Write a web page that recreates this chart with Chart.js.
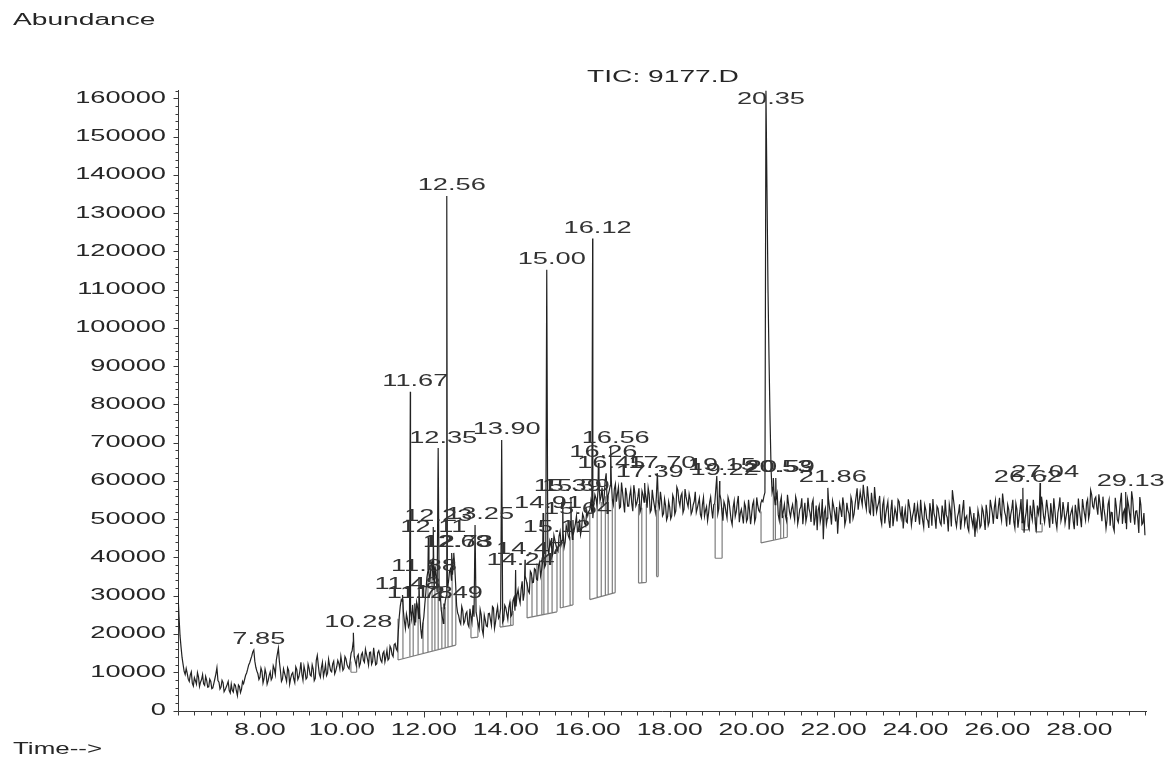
<!DOCTYPE html>
<html>
<head>
<meta charset="utf-8">
<title>TIC: 9177.D</title>
<script src="https://cdn.jsdelivr.net/npm/chart.js@4.4.1/dist/chart.umd.min.js"></script>
<style>
  html, body { margin: 0; padding: 0; background: #ffffff; }
  canvas { display: block; }
</style>
</head>
<body>
<canvas id="tic" width="1167" height="768"></canvas>
<script>
// Total ion chromatogram. Scans are stored as two interleaved sets:
// even scans from 6.000 min and odd scans from 6.025 min, each every 0.05 min.
const evenScanStart = 6.0;
const oddScanStart = 6.025;
const scanStep = 0.05;
const abundanceEven = [
  // 6.00 – 6.95
  30500,19500,13800,10200,11000,8200,9300,7100,8600,6900,8800,7400,9400,6600,7900,6200,7600,5900,8300,11200,
  // 7.00 – 7.95
  7400,6100,7300,5400,6800,5200,6900,4800,6600,3900,6300,5600,7000,9200,10800,12500,14200,14800,11300,9600,
  // 8.00 – 8.95
  8700,10200,8300,9600,7800,10100,8600,10900,13200,16300,10400,8200,9800,7600,10500,8400,9900,7300,10700,8800,
  // 9.00 – 9.95
  12600,7900,10300,8600,11000,9000,10800,8400,14400,9500,11200,8900,12000,9700,11800,10100,12900,10400,13100,10900,
  // 10.00 – 10.95
  12400,11000,13500,11300,12800,15600,14200,11800,14600,12300,15100,12600,14700,11900,15300,12800,14100,12200,15600,13100,
  // 11.00 – 11.95
  14900,12700,15800,13600,16200,14100,17500,15600,24500,29000,26000,21500,23800,22500,24000,24500,23000,26800,25400,18800,
  // 12.00 – 12.95
  24500,31000,36500,33800,39000,31500,35000,33000,30500,24500,26500,30000,33500,37000,35500,38500,27500,24800,22600,26100,
  // 13.00 – 13.95
  23400,25800,21900,24700,27500,26000,24200,21300,25100,19800,23600,21900,25400,22300,26800,23100,27200,24600,25800,23700,
  // 14.00 – 14.95
  26900,23800,28300,25100,29500,27200,31600,28100,33800,30600,34100,31200,36400,33400,37100,34300,38000,35200,39100,37500,
  // 15.00 – 15.95
  41000,40500,43200,41000,44500,42100,45600,43300,46200,44100,47300,45000,48100,46200,48900,46800,49900,47500,50600,48300,
  // 16.00 – 16.95
  50900,52400,51800,53900,55500,57300,54800,58200,55600,59000,56300,58800,55100,57900,54600,58400,53200,57100,51800,56500,
  // 17.00 – 17.95
  53400,57800,52100,56900,54300,58100,52700,56400,57200,53000,56600,52400,55300,51900,56000,53100,54800,51500,53600,50700,
  // 18.00 – 18.95
  53200,50900,55400,52200,57600,53500,56800,52600,55900,53300,55200,52100,54700,51800,54200,51300,53900,50800,53300,51600,
  // 19.00 – 19.95
  55800,50200,54100,56500,52800,55200,49600,53700,50300,54600,49800,53100,50700,54300,49200,52600,48900,53400,50100,52300,
  // 20.00 – 20.95
  51200,54800,50400,53600,51900,55000,56000,58000,110000,76000,57000,56200,55300,51200,54500,50300,53900,49700,54100,50600,
  // 21.00 – 21.95
  53800,49900,54700,50400,53200,48700,54300,50900,52800,49300,55100,50200,47100,53600,50800,44800,52900,50300,53100,48600,
  // 22.00 – 22.95
  53500,49400,46200,54000,50600,53700,49800,52400,48900,54600,51300,55900,52500,57100,53800,56300,52600,55700,51400,54200,
  // 23.00 – 23.95
  58400,51900,54300,50100,53800,48900,53100,49700,52400,48200,52900,49400,54600,50300,47600,52800,49100,53500,48500,51900,
  // 24.00 – 24.95
  49300,53700,48600,51800,47900,52500,49600,54200,48300,51600,47500,52800,49100,53600,48700,51200,46800,52300,57600,53100,
  // 25.00 – 25.95
  48100,51700,47300,52600,48800,50900,46900,51400,48200,45400,47600,50800,48400,52100,47200,51600,49300,53300,48800,54900,
  // 26.00 – 26.95
  50200,55600,49700,54300,50900,53800,48600,52700,49300,54100,47800,52300,49100,46500,51800,48200,53600,49900,52700,47400,
  // 27.00 – 27.95
  51500,48600,53900,49200,55100,50300,54200,48800,52600,47700,53300,49600,54500,48900,52100,47300,51900,49400,53800,48300,
  // 28.00 – 28.95
  52400,47900,53100,49800,55200,51600,56400,52900,55800,51200,54300,49500,52700,47600,53900,48300,51700,46900,53400,49200,
  // 29.00 – 29.60
  54600,48800,52500,47400,53700,49100,55300,48600,52200,46400,53800,49000,45800
];
const abundanceOdd = [
  // 6.025 – 6.975
  24500,16500,12000,9400,9700,7600,10100,6400,7800,9900,6300,8100,7000,8900,6100,8200,5700,7100,9600,7800,
  // 7.025 – 7.975
  5600,7900,4900,6100,7600,4600,5300,6900,5100,6700,4700,7600,8100,9800,11900,13400,15300,12900,10300,8100,
  // 8.025 – 8.975
  11100,7200,10800,6900,9200,8000,11700,9400,14800,12700,7600,10900,8700,11200,6900,9500,8300,11400,8100,10300,
  // 9.025 – 9.975
  9400,11600,8200,12100,9300,11900,7800,13100,11800,8700,12600,10200,9100,13400,10400,12200,9600,11500,12300,14200,
  // 10.025 – 10.975
  10500,14100,12000,10900,15000,17900,12900,14100,11500,14500,13100,16000,13400,15200,12100,16400,11900,15100,14400,12600,
  // 11.025 – 11.975
  15400,14100,13200,16800,14600,17200,16100,20300,27300,28500,23400,25200,21800,26100,27600,22400,28300,24100,21400,22600,
  // 12.025 – 12.975
  27900,34800,35900,38000,34200,37700,30900,28600,26300,22800,28800,32100,36300,34100,39800,33200,25500,23300,27200,22700,
  // 13.025 – 13.975
  25300,22600,26600,23000,24500,25700,22500,26400,21100,24900,22100,25300,23800,27200,21500,25600,24100,26800,23100,27500,
  // 14.025 – 14.975
  25300,27000,24600,28700,26100,30200,29400,31700,28700,35100,32800,30700,35900,33500,36800,34100,38800,36700,40900,38200,
  // 15.025 – 15.975
  42800,44300,40100,45800,43200,41600,46800,44500,42700,48300,45700,49400,44700,47500,50800,47100,46000,51400,48900,52300,
  // 16.025 – 16.975
  52100,54600,50300,56400,53600,59400,55900,53700,60100,54200,57500,60300,53800,59200,56700,52900,59600,54300,58200,53400,
  // 17.025 – 17.975
  56200,54100,58900,53500,55900,51800,57400,54500,55600,58300,51800,57700,53700,55900,54400,57200,50900,55300,49800,54600,
  // 18.025 – 18.975
  50100,56300,51300,58400,54800,56100,51700,57900,54400,56600,51400,53800,57200,52900,55500,50400,55700,52300,49600,54400,
  // 19.025 – 19.975
  52600,53800,57700,51400,56600,52100,54600,51800,55700,52200,48600,54800,51900,56100,51600,50800,54300,49400,55100,48700,
  // 20.025 – 20.975
  53900,49300,55700,52300,54200,54600,57000,136000,92000,63000,58400,53800,56700,49700,55800,52200,50900,56400,51900,52700,
  // 21.025 – 21.975
  51600,55900,48800,52600,55500,51800,49400,55600,51700,54100,48400,53600,52400,49300,55300,51800,48700,55400,51100,54800,
  // 22.025 – 22.975
  51700,53200,50900,52400,55700,48500,54300,51500,55800,50200,53900,58100,54700,55400,59000,54200,58600,51900,56900,50800,
  // 23.025 – 23.975
  55200,53300,56100,48700,55100,51400,54600,47700,55100,50600,51600,55100,51900,53400,50900,49400,55200,51800,50700,54300,
  // 24.025 – 24.975
  51400,50900,55100,49600,53700,50100,47700,52100,55300,50400,53400,50800,48500,51700,55100,50400,53900,48100,55300,49700,
  // 25.025 – 25.975
  50600,53900,49800,55000,50400,47800,53300,49700,51600,49300,52400,47800,53100,49900,53800,48400,55100,51600,53100,50300,
  // 26.025 – 26.975
  53400,51300,56700,51900,48100,52600,51300,55100,47700,52600,50300,55300,54300,50100,55200,47400,51400,55100,48800,53600,
  // 27.025 – 27.975
  53400,55900,50800,51900,52800,47800,51600,55500,49400,51700,55700,50900,52300,50700,54500,50800,52900,47400,51800,55400,
  // 28.025 – 28.975
  50300,55300,51400,54300,50100,57600,53400,55300,53100,56500,52000,55900,50800,49800,55100,51800,47900,55600,49900,51600,
  // 29.025 – 29.575
  56900,51800,49100,55200,51400,57300,51300,52100,50200,55800,48600,51600
];

// Integrated peaks: retention time (min) and apex abundance
const peakTimes = [7.85, 10.28, 11.48, 11.67, 11.78, 11.88, 12.11, 12.23, 12.35, 12.49, 12.56, 12.68, 12.73,
  13.25, 13.90, 14.24, 14.47, 14.91, 15.00, 15.12, 15.39, 15.59, 15.64, 16.12, 16.26, 16.45, 16.56,
  17.39, 17.70, 19.15, 19.22, 20.35, 20.53, 20.59, 21.86, 26.62, 27.04, 29.13];
const peakHeights = [15800, 20300, 30200, 83300, 28000, 34900, 45100, 48000, 68600, 28000, 134500, 41200, 41200,
  48500, 70700, 36700, 39400, 51600, 115200, 45100, 55800, 55800, 49800, 123400, 64700, 62000, 68600,
  59500, 62000, 61300, 60000, 162000, 60800, 60800, 58200, 58200, 59500, 57100];

// Integration baselines: [start time, start level, end time, end level]
const baselineSegments = [
  [10.22, 10000, 10.36, 10000],
  [11.37, 13200, 12.78, 17100],
  [13.15, 19000, 13.32, 19200],
  [13.86, 21800, 14.18, 22300],
  [14.52, 24200, 15.25, 25800],
  [15.33, 26800, 15.64, 27600],
  [16.05, 29000, 16.67, 30800],
  [17.24, 33300, 17.43, 33500],
  [17.68, 35000, 17.72, 35000],
  [19.11, 39800, 19.28, 39800],
  [20.23, 43800, 20.87, 45300],
  [26.60, 47200, 26.76, 47200],
  [26.93, 46700, 27.09, 46700]
];
// Peak start/stop markers: [time, signal level where the marker meets the trace]
const dropMarkers = [
  [10.22, 12800], [10.36, 11800],
  [11.37, 24000], [11.49, 29000], [11.66, 24000], [11.74, 25500], [11.86, 28000], [11.98, 23000],
  [12.10, 36000], [12.20, 39000], [12.27, 32000], [12.35, 34000], [12.44, 27000], [12.52, 27000],
  [12.59, 33000], [12.69, 36000], [12.78, 30000],
  [13.15, 24700], [13.32, 23000],
  [13.86, 24600], [13.93, 25000], [14.12, 28500], [14.18, 26000],
  [14.52, 33500], [14.64, 34800], [14.76, 38500], [14.88, 40000], [14.93, 41000], [15.03, 40500],
  [15.13, 43000], [15.25, 42500],
  [15.33, 44500], [15.40, 46000], [15.57, 45500], [15.64, 47500],
  [16.05, 52000], [16.23, 55000], [16.33, 54500], [16.43, 56000], [16.50, 56000], [16.60, 55000], [16.67, 57000],
  [17.24, 54000], [17.32, 53000], [17.43, 54000],
  [17.68, 52500], [17.72, 55000],
  [19.11, 54000], [19.28, 53000],
  [20.23, 52000], [20.53, 58000], [20.58, 56000], [20.71, 54000], [20.78, 51000], [20.87, 50500],
  [26.60, 49500], [26.76, 48500],
  [26.93, 50500], [27.09, 49000]
];

// Axis ticks
const timeTicks = [8, 10, 12, 14, 16, 18, 20, 22, 24, 26, 28];
const abundanceTicks = [0, 10000, 20000, 30000, 40000, 50000, 60000, 70000, 80000, 90000,
  100000, 110000, 120000, 130000, 140000, 150000, 160000];
const timeMinorStep = 0.4;
const abundanceMinorStep = 2000;

const sameTime = (a, b) => Math.abs(a - b) < 0.001;
const toScans = (values, start) =>
  values.map((v, i) => ({ x: +(start + i * scanStep).toFixed(3), y: v }));

// Trace: every scan, with the apex of each integrated peak merged in
const tracePoints = toScans(abundanceEven, evenScanStart)
  .concat(toScans(abundanceOdd, oddScanStart))
  .filter(p => !peakTimes.some(t => sameTime(t, p.x)))
  .concat(peakTimes.map((t, i) => ({ x: t, y: peakHeights[i] })))
  .sort((a, b) => a.x - b.x);

// Integration marks: baselines plus vertical start/stop lines
function baselineAt(t) {
  for (const [t0, b0, t1, b1] of baselineSegments) {
    if (t >= t0 - 0.001 && t <= t1 + 0.001) return b0 + (b1 - b0) * (t - t0) / (t1 - t0);
  }
  return null;
}
const markPoints = [];
for (const [t0, b0, t1, b1] of baselineSegments) {
  markPoints.push({ x: t0, y: b0 }, { x: t1, y: b1 }, { x: t1, y: null });
}
for (const [t, top] of dropMarkers) {
  markPoints.push({ x: t, y: baselineAt(t) }, { x: t, y: top }, { x: t, y: null });
}

const FONT = "'Liberation Sans', Arial, Helvetica, sans-serif";
function wideText(ctx, text, x, y, size, stretch, align) {
  ctx.save();
  ctx.translate(x, y);
  ctx.scale(stretch, 1);
  ctx.font = size + 'px ' + FONT;
  ctx.textAlign = align;
  ctx.textBaseline = 'middle';
  ctx.fillText(text, 0, 0);
  ctx.restore();
}

const chromDecor = {
  id: 'chromDecor',
  beforeDatasetsDraw(chart) {
    const { ctx, chartArea: a, scales: { x, y } } = chart;
    ctx.save();
    ctx.strokeStyle = '#3a3a3a';
    ctx.lineWidth = 1;
    ctx.beginPath();
    const ax = Math.round(a.left) + 0.5;
    const ay = Math.round(y.getPixelForValue(0)) + 0.5;
    ctx.moveTo(ax, Math.round(a.top) + 3);
    ctx.lineTo(ax, ay);
    ctx.lineTo(Math.round(a.right), ay);
    // time ticks below the axis
    for (let t = x.min; t <= x.max + 1e-6; t += timeMinorStep) {
      const px = Math.round(x.getPixelForValue(t)) + 0.5;
      const major = timeTicks.some(v => Math.abs(v - t) < 1e-6);
      ctx.moveTo(px, ay);
      ctx.lineTo(px, ay + (major ? 6 : 4));
    }
    // abundance ticks left of the axis
    for (let v = 0; v <= y.max; v += abundanceMinorStep) {
      const py = Math.round(y.getPixelForValue(v)) + 0.5;
      const major = abundanceTicks.includes(v);
      ctx.moveTo(ax, py);
      ctx.lineTo(ax - (major ? 5 : 3), py);
    }
    ctx.stroke();
    ctx.restore();
  },
  afterDraw(chart) {
    const { ctx, chartArea: a, scales: { x, y } } = chart;
    ctx.save();
    ctx.fillStyle = '#262626';
    // axis labels
    for (const v of abundanceTicks) {
      wideText(ctx, String(v), a.left - 12, y.getPixelForValue(v), 16, 1.70, 'right');
    }
    for (const t of timeTicks) {
      wideText(ctx, t.toFixed(2), x.getPixelForValue(t), y.getPixelForValue(0) + 20, 16, 1.65, 'center');
    }
    wideText(ctx, 'Abundance', 13, 21, 16, 1.76, 'left');
    wideText(ctx, 'Time-->', 13, 750, 16, 1.62, 'left');
    wideText(ctx, 'TIC: 9177.D', 663, 78, 16, 1.76, 'center');
    // retention-time labels above each apex
    ctx.fillStyle = '#333333';
    peakTimes.forEach((t, i) => {
      const px = x.getPixelForValue(t) + 5;
      const py = Math.max(y.getPixelForValue(peakHeights[i]) - 10, a.top + 13);
      wideText(ctx, t.toFixed(2), px, py, 16, 1.70, 'center');
    });
    ctx.restore();
  }
};

new Chart(document.getElementById('tic'), {
  type: 'line',
  data: {
    datasets: [
      {
        label: 'TIC: 9177.D',
        data: tracePoints,
        borderColor: '#222222',
        borderWidth: 1.2,
        pointRadius: 0,
        tension: 0,
        order: 0
      },
      {
        label: 'integration',
        data: markPoints,
        borderColor: '#7d7d7d',
        borderWidth: 1.2,
        pointRadius: 0,
        tension: 0,
        spanGaps: false,
        order: 1
      }
    ]
  },
  options: {
    responsive: false,
    animation: false,
    devicePixelRatio: 1,
    events: [],
    parsing: true,
    layout: { padding: { left: 178, right: 20, top: 87, bottom: 57.5 } },
    plugins: { legend: { display: false }, tooltip: { enabled: false } },
    scales: {
      x: { type: 'linear', display: false, min: 6.0, max: 29.65 },
      y: { type: 'linear', display: false, min: 0, max: 163000 }
    }
  },
  plugins: [chromDecor]
});
</script>
</body>
</html>
